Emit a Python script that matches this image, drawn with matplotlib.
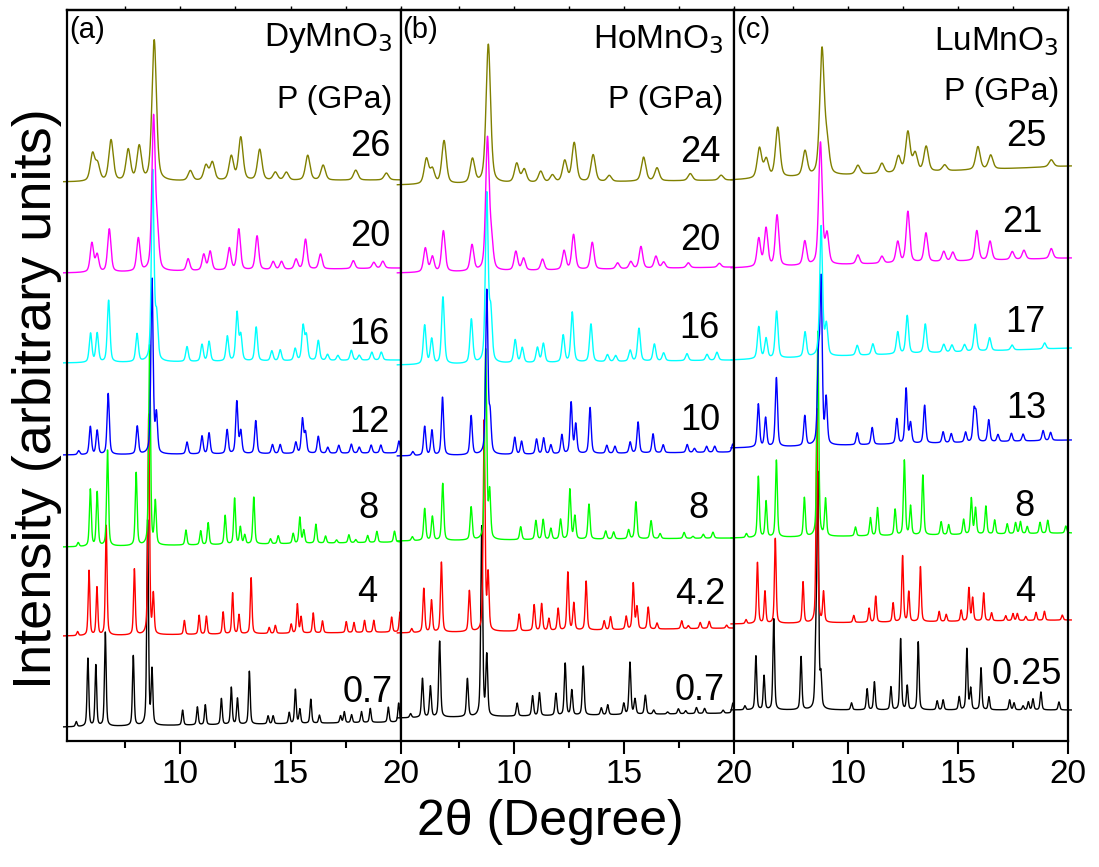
import numpy as np
import matplotlib.pyplot as plt
from matplotlib import font_manager

plt.rcParams['font.family'] = ['Liberation Sans', 'DejaVu Sans']

# axis numbers / x title look condensed in the original
installed = {f.name for f in font_manager.fontManager.ttflist}
narrow = 'Liberation Sans Narrow' in installed
tick_font = 'Liberation Sans Narrow' if narrow else 'Liberation Sans'
tick_size = 28 if narrow else 24
xlab_size = 43 if narrow else 36

# colours in order of increasing pressure
colors = ['#000000', '#ff0000', '#00ff00', '#0000ff', '#00ffff', '#ff00ff', '#808000']

# ---------------- (a) DyMnO3 ----------------
dy_pressures = ['0.7', '4', '8', '12', '16', '20', '26']
dy_base = [(14, 19), (105, 109), (194, 199), (286, 288), (378, 381), (468, 473), (559, 561)]
dy_width = [0.09, 0.09, 0.10, 0.12, 0.14, 0.18, 0.24]
dy_07 = [(5.27, 5), (5.80, 68), (6.16, 61), (6.59, 94), (7.86, 70), (8.51, 205), (8.71, 54),
         (10.10, 15), (10.77, 18), (11.13, 20), (11.86, 26), (12.31, 37), (12.59, 26), (13.13, 53),
         (13.98, 8), (14.21, 8), (14.94, 11), (15.22, 34), (15.42, 14), (15.92, 24), (16.31, 8),
         (17.27, 7), (17.44, 11), (17.77, 8), (18.22, 11), (18.62, 14), (19.44, 15), (19.91, 19)]
dy_4 = [(5.33, 4), (5.85, 65), (6.21, 48), (6.63, 110), (7.91, 66), (8.56, 220), (8.77, 39),
        (10.18, 14), (10.85, 19), (11.18, 18), (11.94, 22), (12.37, 41), (12.66, 19), (13.21, 56),
        (14.03, 6), (14.31, 8), (15.03, 9), (15.31, 29), (15.48, 16), (16.03, 20), (16.45, 12),
        (17.53, 11), (17.88, 10), (18.36, 12), (18.78, 12), (19.59, 15), (19.97, 20)]
dy_8 = [(5.36, 4), (5.91, 57), (6.22, 54), (6.69, 96), (7.99, 73), (8.60, 200), (8.86, 43),
        (10.25, 15), (10.92, 14), (11.26, 22), (12.03, 29), (12.46, 46), (12.72, 17), (12.92, 9),
        (13.33, 47), (14.09, 5), (14.44, 8), (15.12, 10), (15.42, 26), (15.60, 13), (16.15, 19),
        (16.59, 7), (17.09, 3), (17.65, 8), (17.96, 3), (18.50, 7), (18.92, 11), (19.72, 11)]
dy_12 = [(5.38, 4), (5.91, 28), (6.22, 24), (6.72, 61), (8.04, 28), (8.71, 175), (8.91, 38),
         (10.30, 12), (10.98, 18), (11.30, 21), (12.12, 24), (12.56, 52), (12.74, 22), (13.42, 33),
         (14.18, 9), (14.53, 9), (15.24, 11), (15.54, 34), (15.68, 20), (16.26, 17), (16.69, 6),
         (17.19, 8), (17.76, 9), (18.12, 6), (18.66, 8), (19.10, 8), (19.92, 12)]
dy_16 = [(5.92, 29), (6.22, 29), (6.74, 62), (8.03, 28), (8.74, 190), (8.92, 42),
         (10.30, 15), (10.98, 17), (11.30, 20), (12.13, 25), (12.57, 48), (12.74, 25), (13.44, 34),
         (14.15, 10), (14.53, 11), (15.21, 12), (15.57, 34), (15.72, 24), (16.26, 20), (16.68, 6),
         (17.15, 5), (17.76, 10), (18.12, 5), (18.69, 8), (19.12, 8)]
dy_20 = [(5.98, 29), (6.22, 17), (6.77, 43), (8.09, 33), (8.78, 152), (8.95, 34),
         (10.35, 12), (11.06, 16), (11.35, 19), (12.22, 22), (12.65, 41), (13.48, 34),
         (14.21, 8), (14.59, 8), (15.25, 10), (15.68, 30), (16.36, 15), (17.85, 8), (18.78, 6),
         (19.19, 7)]
dy_26 = [(6.01, 27), (6.24, 16), (6.85, 41), (7.63, 31), (8.13, 34), (8.81, 141),
         (10.45, 10), (11.16, 15), (11.45, 18), (12.31, 24), (12.74, 43), (13.60, 31),
         (14.31, 8), (14.81, 8), (15.78, 25), (16.48, 15), (17.96, 10), (19.35, 7)]
dy_peaks = [dy_07, dy_4, dy_8, dy_12, dy_16, dy_20, dy_26]

# ---------------- (b) HoMnO3 ----------------
ho_pressures = ['0.7', '4.2', '8', '10', '16', '20', '24']
ho_base = [(23, 28), (108, 113), (200, 203), (285, 289), (376, 381), (468, 474), (556, 561)]
ho_width = [0.10, 0.10, 0.11, 0.12, 0.15, 0.19, 0.24]
ho_07 = [(5.30, 4), (5.84, 39), (6.20, 31), (6.62, 76), (7.88, 38), (8.53, 190), (8.76, 60),
         (10.14, 13), (10.84, 20), (11.15, 23), (11.90, 22), (12.32, 52), (12.62, 25), (13.14, 49),
         (13.96, 7), (14.25, 10), (14.98, 11), (15.26, 52), (15.49, 15), (15.96, 19), (16.34, 4),
         (16.97, 2), (17.46, 5), (17.79, 3), (18.28, 6), (18.65, 5), (19.49, 3), (19.93, 10)]
ho_42 = [(5.35, 4), (5.90, 44), (6.25, 32), (6.70, 70), (7.97, 41), (8.64, 210), (8.82, 55),
         (10.23, 17), (10.91, 26), (11.25, 27), (11.58, 12), (12.00, 22), (12.44, 58), (12.71, 27),
         (13.27, 49), (14.09, 9), (14.38, 13), (15.09, 13), (15.41, 46), (15.58, 22), (16.09, 22),
         (16.49, 6), (17.61, 8), (17.91, 3), (18.45, 6), (18.86, 7), (19.65, 3)]
ho_8 = [(5.38, 4), (5.94, 32), (6.29, 24), (6.76, 57), (8.05, 33), (8.71, 190), (8.89, 46),
        (10.30, 13), (10.99, 19), (11.32, 20), (11.67, 11), (12.11, 20), (12.53, 50), (12.76, 23),
        (13.40, 35), (14.16, 8), (14.52, 7), (15.20, 9), (15.53, 37), (16.22, 18), (16.63, 5),
        (17.72, 6), (18.12, 2), (18.59, 4), (19.03, 6)]
ho_10 = [(5.40, 4), (5.94, 29), (6.27, 25), (6.75, 58), (8.05, 39), (8.76, 163), (8.91, 37),
         (10.03, 17), (10.34, 13), (11.02, 15), (11.34, 16), (11.67, 9), (12.17, 19), (12.59, 51),
         (12.80, 29), (13.45, 46), (14.21, 8), (14.58, 7), (15.27, 11), (15.63, 31), (16.31, 19),
         (16.77, 8), (17.86, 8), (18.19, 4), (18.74, 6), (19.11, 6), (19.93, 8)]
ho_16 = [(5.94, 39), (6.26, 25), (6.77, 67), (8.06, 44), (8.76, 168), (8.94, 48),
         (10.05, 23), (10.37, 15), (11.06, 15), (11.33, 19), (12.23, 27), (12.64, 50), (13.49, 38),
         (14.24, 7), (14.61, 6), (15.27, 11), (15.67, 33), (16.37, 17), (16.79, 8), (17.85, 7),
         (18.76, 6), (19.21, 8)]
ho_20 = [(5.97, 24), (6.29, 15), (6.79, 41), (8.09, 26), (8.79, 131), (8.97, 26),
         (10.08, 19), (10.43, 12), (11.29, 11), (12.27, 19), (12.70, 35), (13.55, 27),
         (14.70, 6), (15.30, 7), (15.76, 22), (16.44, 12), (16.79, 6), (17.91, 5), (19.32, 4)]
ho_24 = [(6.02, 25), (6.29, 14), (6.82, 43), (8.11, 24), (8.83, 139), (10.12, 19), (10.46, 13),
         (11.21, 11), (11.74, 7), (12.30, 21), (12.73, 39), (13.59, 27), (14.32, 6), (15.88, 24),
         (16.49, 13), (18.00, 7), (19.40, 5)]
ho_peaks = [ho_07, ho_42, ho_8, ho_10, ho_16, ho_20, ho_24]

# ---------------- (c) LuMnO3 ----------------
lu_pressures = ['0.25', '4', '8', '13', '17', '21', '25']
lu_base = [(31, 31), (117, 121), (203, 208), (293, 301), (381, 393), (473, 483), (561, 575)]
lu_width = [0.09, 0.09, 0.10, 0.12, 0.15, 0.19, 0.24]
lu_025 = [(5.33, 4), (5.83, 54), (6.20, 34), (6.64, 91), (7.88, 53), (8.55, 60), (8.64, 230),
          (8.78, 30), (10.17, 7), (10.88, 21), (11.21, 28), (11.96, 23), (12.40, 71), (12.70, 24),
          (13.20, 68), (14.06, 9), (14.33, 10), (15.06, 13), (15.41, 61), (15.58, 21), (16.05, 42),
          (16.41, 13), (17.35, 10), (17.55, 7), (17.96, 4), (18.20, 8), (18.41, 11), (18.77, 18),
          (19.59, 8)]
lu_4 = [(5.38, 4), (5.90, 61), (6.24, 32), (6.71, 85), (7.97, 41), (8.60, 214), (8.90, 30),
        (10.27, 7), (10.97, 14), (11.27, 26), (12.06, 19), (12.49, 66), (12.77, 30), (13.30, 55),
        (14.15, 10), (14.47, 7), (15.15, 11), (15.50, 33), (15.67, 23), (16.17, 28), (16.53, 8),
        (17.17, 5), (17.50, 7), (17.70, 7), (18.08, 4), (18.55, 8), (18.93, 9), (19.74, 5)]
lu_8 = [(5.40, 4), (5.94, 61), (6.29, 36), (6.76, 77), (8.03, 39), (8.64, 205), (8.99, 37),
        (10.35, 9), (11.03, 18), (11.35, 28), (12.15, 26), (12.57, 75), (12.85, 29), (13.41, 60),
        (14.24, 13), (14.58, 10), (15.26, 15), (15.61, 36), (15.80, 26), (16.27, 28), (16.67, 14),
        (17.24, 10), (17.62, 11), (17.84, 12), (18.15, 7), (18.73, 11), (19.08, 13), (19.90, 7)]
lu_13 = [(5.94, 43), (6.27, 29), (6.76, 69), (8.05, 30), (8.67, 80), (8.79, 160), (9.02, 45),
         (10.43, 12), (11.11, 17), (12.23, 25), (12.65, 55), (12.85, 20), (13.49, 38),
         (14.33, 11), (14.70, 9), (15.35, 10), (15.73, 30), (15.83, 26), (16.40, 22), (16.82, 7),
         (17.43, 8), (17.96, 7), (18.87, 10), (19.21, 8)]
lu_17 = [(5.96, 32), (6.29, 20), (6.77, 47), (8.06, 25), (8.79, 130), (9.03, 30),
         (10.43, 10), (11.14, 11), (12.27, 22), (12.70, 38), (13.52, 29), (14.36, 8), (14.73, 7),
         (15.30, 7), (15.79, 27), (16.44, 13), (17.46, 5), (18.94, 6)]
lu_21 = [(5.96, 28), (6.29, 38), (6.79, 51), (8.05, 24), (8.76, 122), (9.06, 29),
         (10.46, 9), (11.55, 7), (12.27, 21), (12.73, 51), (13.55, 29), (14.36, 10), (14.77, 9),
         (15.86, 30), (16.46, 19), (17.47, 8), (18.00, 9), (19.24, 10)]
lu_25 = [(5.99, 30), (6.30, 18), (6.82, 50), (8.06, 25), (8.83, 125), (9.06, 28),
         (10.46, 9), (11.55, 10), (12.30, 16), (12.73, 40), (13.06, 18), (13.56, 25), (14.40, 6),
         (15.91, 23), (16.49, 14), (19.24, 7)]
lu_peaks = [lu_025, lu_4, lu_8, lu_13, lu_17, lu_21, lu_25]

panels = [
    ('(a)', 'DyMnO$_3$', dy_pressures, dy_base, dy_width, dy_peaks),
    ('(b)', 'HoMnO$_3$', ho_pressures, ho_base, ho_width, ho_peaks),
    ('(c)', 'LuMnO$_3$', lu_pressures, lu_base, lu_width, lu_peaks),
]

# text positions in figure pixels (x = right edge, y = centre)
label_xy = [
    [(393, 692), (377, 593), (378, 508), (390, 423), (390, 335), (390, 237), (390, 147)],
    [(725, 690), (725, 595), (708, 508), (720, 420), (720, 328), (720, 240), (720, 153)],
    [(1062, 675), (1035, 592), (1035, 507), (1046, 408), (1046, 323), (1042, 223), (1046, 136)],
]
name_xy = [(392, 38), (723, 40), (1059, 42)]
pgpa_xy = [(392, 100), (723, 100), (1059, 92)]
tag_x = [69, 402, 736]

W, H = 1099, 867
x = np.arange(4.70, 20.15, 0.004)


def pattern(peaks, w):
    y = np.zeros_like(x)
    for pos, h in peaks:
        d = (x - pos) / w
        lor = 1.0 / (1.0 + 4.0 * d ** 2)
        gau = np.exp(-4.0 * np.log(2) * d ** 2)
        y += h * (0.45 * lor + 0.55 * gau)
    return y


fig = plt.figure(figsize=(W / 100, H / 100), dpi=100)
ax_left, ax_right = 67 / W, 1068 / W
ax_bot, ax_top = 1 - 741 / H, 1 - 10 / H
pw = (ax_right - ax_left) / 3

for k, (tag, name, pressures, base, widths, peaks) in enumerate(panels):
    ax = fig.add_axes([ax_left + k * pw, ax_bot, pw, ax_top - ax_bot])
    for i in range(7):
        b0, b1 = base[i]
        bl = b0 + (b1 - b0) * (x - x[0]) / (x[-1] - x[0])
        ax.plot(x, bl + pattern(peaks[i], widths[i]), color=colors[i], lw=1.0, clip_on=False)
    ax.set_xlim(4.85, 20)
    ax.set_ylim(0, 731)
    ax.set_xticks([10, 15, 20])
    ax.set_xticks([7.5, 12.5, 17.5], minor=True)
    ax.set_yticks([])
    ax.tick_params(axis='x', which='major', direction='out', length=9, width=1.5,
                   labelsize=tick_size, pad=4)
    ax.tick_params(axis='x', which='minor', direction='out', length=5, width=1.5)
    for lab in ax.get_xticklabels():
        lab.set_family([tick_font, 'DejaVu Sans'])
    for s in ax.spines.values():
        s.set_linewidth(1.6)
    top = ax.secondary_xaxis('top')
    top.set_xticks([10, 15, 20])
    top.set_xticks([7.5, 12.5, 17.5], minor=True)
    top.tick_params(which='both', direction='out', length=3, width=1.0, labelsize=0)
    top.set_xticklabels([])
    top.spines['top'].set_linewidth(1.6)

    for i in range(7):
        px, py = label_xy[k][i]
        fig.text(px / W, 1 - py / H, pressures[i], ha='right', va='center', fontsize=26)
    fig.text(name_xy[k][0] / W, 1 - name_xy[k][1] / H, name, ha='right', va='center', fontsize=24)
    fig.text(pgpa_xy[k][0] / W, 1 - pgpa_xy[k][1] / H, 'P (GPa)', ha='right', va='center',
             fontsize=23)
    fig.text(tag_x[k] / W, 1 - 30 / H, tag, ha='left', va='center', fontsize=21)

fig.text(37 / W, 1 - 399 / H, 'Intensity (arbitrary units)', rotation=90, ha='center',
         va='center', fontsize=39)
fig.text(550 / W, 1 - 822 / H, '2\u03b8 (Degree)', ha='center', va='center',
         fontsize=xlab_size, family=[tick_font, 'DejaVu Sans'])

fig.savefig('out.png', dpi=100)
